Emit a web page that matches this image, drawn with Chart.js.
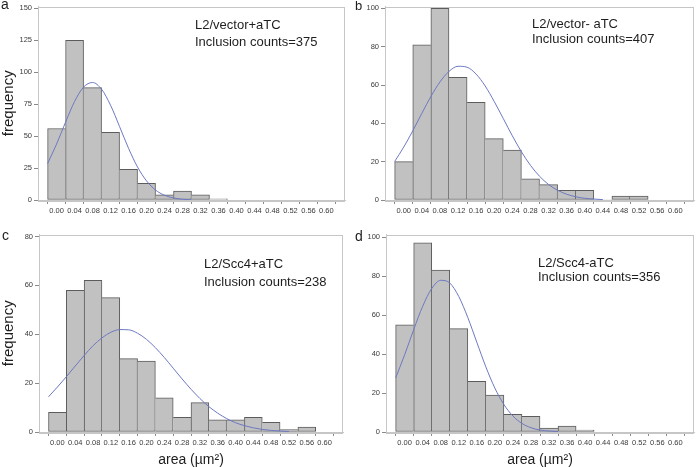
<!DOCTYPE html>
<html><head><meta charset="utf-8">
<script src="https://cdn.jsdelivr.net/npm/chart.js@4.4.1/dist/chart.umd.min.js"></script>
<style>
html,body{margin:0;padding:0;background:#fff;width:696px;height:467px;overflow:hidden}
canvas{position:absolute;display:block}
</style></head><body>
<canvas id="ca" style="left:0;top:0" width="348" height="228"></canvas>
<canvas id="cb" style="left:348px;top:0" width="348" height="228"></canvas>
<canvas id="cc" style="left:0;top:228px" width="348" height="239"></canvas>
<canvas id="cd" style="left:348px;top:228px" width="348" height="239"></canvas>
<script>
// ---- data ----
const binCenters = [0.00,0.04,0.08,0.12,0.16,0.20,0.24,0.28,0.32,0.36,0.40,0.44,0.48,0.52,0.56];
const xTickValues = [0.00,0.04,0.08,0.12,0.16,0.20,0.24,0.28,0.32,0.36,0.40,0.44,0.48,0.52,0.56,0.60];

const freqA = [56,125,88,53,24,13,4,7,4,1];
const freqB = [20,81,100,64,51,32,26,11,8,5,5,0,2,2];
const freqC = [8,58,62,55,30,29,14,6,12,5,5,6,4,1,2];
const freqD = [55,97,83,53,26,19,9,8,2,3,1];

const curveX = [-0.02,0.00,0.02,0.04,0.06,0.08,0.10,0.12,0.14,0.16,0.18,0.20,0.22,0.24,0.26,0.28,0.30,0.32,0.34,0.36,0.38,0.40,0.42,0.44,0.46,0.48,0.50,0.52];
const curveA = [28.5,43.8,61,77.1,88.4,92,86.7,74.2,57.5,40.5,25.8,15,7.8,3.7,1.6,0.6,0.2];
const curveB = [20.1,27.6,36.1,45.2,54,61.6,67.1,69.8,69.3,65.7,59.5,51.4,42.5,33.5,25.2,18.1,12.4,8.1,5.1,3,1.7,0.9,0.5,0.2];
const curveC = [14.4,18.4,22.6,27,31.3,35.3,38.5,40.8,41.9,41.8,40.4,37.9,34.5,30.5,26.1,21.7,17.5,13.7,10.4,7.7,5.5,3.8,2.6,1.7,1.06,0.65,0.4,0.2];
const curveD = [27.7,39.6,52.5,64.5,73.6,77.8,76.4,69.5,58.7,46,33.4,22.5,14.1,8.2,4.4,2.2,1,0.5,0.2];

const yTicksA = [0,25,50,75,100,125,150];
const yTicksB = [0,20,40,60,80,100];
const yTicksC = [0,20,40,60,80];
const yTicksD = [0,20,40,60,80,100];

const panelLetters = ['a','b','c','d'];
const groupNames = ['L2/vector+aTC','L2/vector- aTC','L2/Scc4+aTC','L2/Scc4-aTC'];
const countTexts = ['Inclusion counts=375','Inclusion counts=407','Inclusion counts=238','Inclusion counts=356'];
const yTitle = 'frequency';
const xTitle = 'area (\u00b5m\u00b2)';

// ---- styling / helpers ----
const FONT = '"Liberation Sans", Arial, Helvetica, sans-serif';

function edgeWidths(values){
  return ctx => {
    const i = ctx.dataIndex;
    const h = values[i] || 0;
    const prev = i > 0 ? (values[i-1] || 0) : 0;
    const next = i < values.length - 1 ? (values[i+1] || 0) : 0;
    return {top:1, bottom:1, left: prev >= h ? 0 : 1, right: h >= next ? 1 : 0};
  };
}

const framePlugin = {
  id: 'frame',
  beforeDatasetsDraw(chart){
    const {ctx, chartArea:a} = chart;
    ctx.save();
    ctx.strokeStyle = '#c6c6c6';
    ctx.lineWidth = 1;
    ctx.strokeRect(Math.round(a.left)+0.5, Math.round(a.top)+0.5, Math.round(a.right-a.left)-1, Math.round(a.bottom-a.top));
    ctx.restore();
  }
};

const notesPlugin = {
  id: 'notes',
  afterDraw(chart, args, opts){
    const ctx = chart.ctx;
    ctx.save();
    ctx.fillStyle = '#1e1e1e';
    ctx.textAlign = 'left';
    ctx.textBaseline = 'alphabetic';
    (opts.items || []).forEach(t => {
      ctx.font = t.size + 'px ' + FONT;
      ctx.fillText(t.text, t.x, t.y);
    });
    ctx.restore();
  }
};

function makePanel(id, cfg){
  const bars = binCenters.slice(0, cfg.freq.length).map((c,i) => ({x:c, y:cfg.freq[i]}));
  const curve = curveX.slice(0, cfg.curve.length).map((c,i) => ({x:c, y:cfg.curve[i]}));
  return new Chart(document.getElementById(id), {
    type: 'bar',
    data: {
      datasets: [
        {type:'line', data: curve, borderColor:'#6d79c2', borderWidth:1, pointRadius:0,
         cubicInterpolationMode:'monotone', fill:false, order:0},
        {type:'bar', data: bars, backgroundColor:'#c1c1c1', borderColor:'#5c5c5c',
         borderWidth: edgeWidths(cfg.freq), borderSkipped:false,
         barPercentage:1, categoryPercentage:1, order:1}
      ]
    },
    options: {
      responsive:false, animation:false,
      layout:{padding:{left:0, right:cfg.padRight, top:cfg.padTop, bottom:0}},
      plugins:{legend:{display:false}, tooltip:{enabled:false}, notes:{items:cfg.notes}},
      scales:{
        x:{type:'linear', min:-0.02, max:0.62,
           afterBuildTicks: s => { s.ticks = xTickValues.map(v => ({value:v})); },
           afterFit: s => { s.height = cfg.xHeight; },
           ticks:{autoSkip:false, maxRotation:0, minRotation:0, padding:2, color:'#3a3a3a',
                  font:{size:7.5, family:FONT}, callback: v => Number(v).toFixed(2)},
           grid:{drawOnChartArea:false, drawTicks:true, tickLength:4, color:'#8a8a8a'},
           border:{display:true, color:'#c6c6c6'},
           title:{display:cfg.showX, text:xTitle, color:'#1e1e1e',
                  font:{size:14, family:FONT, lineHeight:1}, padding:{top:0,bottom:0}}
        },
        y:{type:'linear', min:0, max:cfg.yMax,
           afterBuildTicks: s => { s.ticks = cfg.yTicks.map(v => ({value:v})); },
           afterFit: s => { s.width = cfg.yWidth; },
           ticks:{padding:2, color:'#3a3a3a', font:{size:7.5, family:FONT}},
           grid:{drawOnChartArea:false, drawTicks:true, tickLength:4, color:'#8a8a8a'},
           border:{display:true, color:'#c6c6c6'},
           title:{display:cfg.showY, text:yTitle, color:'#1e1e1e',
                  font:{size:15, family:FONT, lineHeight:1}, padding:{top:1,bottom:0}}
        }
      }
    },
    plugins:[framePlugin, notesPlugin]
  });
}

makePanel('ca', {freq:freqA, curve:curveA, yTicks:yTicksA, yMax:151.5, yWidth:38, padRight:3, padTop:3, xHeight:28,
  showY:true, showX:false,
  notes:[{text:panelLetters[0], x:1, y:9, size:14},
         {text:groupNames[0], x:195, y:28.5, size:13},
         {text:countTexts[0], x:195, y:45.5, size:13}]});
makePanel('cb', {freq:freqB, curve:curveB, yTicks:yTicksB, yMax:101, yWidth:37, padRight:2, padTop:3, xHeight:28,
  showY:false, showX:false,
  notes:[{text:panelLetters[1], x:7, y:10, size:13},
         {text:groupNames[1], x:184, y:28, size:13},
         {text:countTexts[1], x:184, y:42.7, size:13}]});
makePanel('cc', {freq:freqC, curve:curveC, yTicks:yTicksC, yMax:80.8, yWidth:39, padRight:5, padTop:5, xHeight:35,
  showY:true, showX:true,
  notes:[{text:panelLetters[2], x:2, y:12, size:14},
         {text:groupNames[2], x:204, y:40.3, size:13},
         {text:countTexts[2], x:204, y:58, size:13}]});
makePanel('cd', {freq:freqD, curve:curveD, yTicks:yTicksD, yMax:101.3, yWidth:38, padRight:2, padTop:4, xHeight:35,
  showY:false, showX:true,
  notes:[{text:panelLetters[3], x:7, y:13, size:14},
         {text:groupNames[3], x:190, y:38.7, size:13},
         {text:countTexts[3], x:190, y:53, size:13}]});
</script>
</body></html>
